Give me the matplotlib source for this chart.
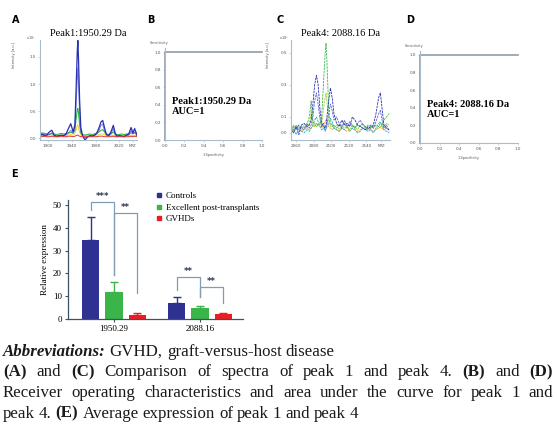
import matplotlib
matplotlib.use('Agg')
import matplotlib.pyplot as plt
from matplotlib.lines import Line2D

W, H = 557, 424

# ---- panel A spectra (m/z vs intensity x10^4) ----
mz_a = [1886, 1890, 1894, 1898, 1902, 1906, 1910, 1914, 1918, 1922, 1926, 1930,
        1934, 1938, 1942, 1945, 1947, 1949, 1950, 1951, 1953, 1955, 1958, 1962,
        1966, 1970, 1974, 1978, 1982, 1986, 1989, 1992, 1995, 1998, 2002, 2006,
        2010, 2013, 2016, 2020, 2024, 2028, 2032, 2036, 2040, 2043, 2046, 2050]
a_blue1 = [0.06, 0.08, 0.05, 0.07, 0.12, 0.15, 0.06, 0.04, 0.05, 0.06, 0.05, 0.08,
           0.18, 0.27, 0.12, 0.25, 0.90, 1.60, 1.80, 1.50, 0.70, 0.20, 0.05, -0.03,
           0.02, 0.05, 0.04, 0.06, 0.10, 0.20, 0.30, 0.33, 0.20, 0.08, 0.05, 0.12,
           0.24, 0.10, 0.04, 0.05, 0.04, 0.03, 0.06, 0.08, 0.20, 0.10, 0.18, 0.06]
a_blue2 = [0.04, 0.05, 0.07, 0.05, 0.08, 0.10, 0.05, 0.03, 0.04, 0.05, 0.06, 0.06,
           0.10, 0.15, 0.09, 0.20, 0.60, 1.10, 1.30, 1.05, 0.45, 0.12, 0.04, 0.01,
           0.03, 0.04, 0.05, 0.05, 0.08, 0.15, 0.24, 0.26, 0.14, 0.06, 0.04, 0.09,
           0.18, 0.08, 0.03, 0.04, 0.05, 0.04, 0.05, 0.06, 0.14, 0.08, 0.12, 0.05]
a_green = [0.08, 0.10, 0.09, 0.08, 0.07, 0.09, 0.08, 0.07, 0.08, 0.09, 0.08, 0.09,
           0.10, 0.11, 0.10, 0.15, 0.35, 0.52, 0.55, 0.48, 0.25, 0.10, 0.07, 0.06,
           0.07, 0.08, 0.07, 0.08, 0.09, 0.12, 0.15, 0.16, 0.12, 0.08, 0.07, 0.08,
           0.12, 0.08, 0.07, 0.07, 0.08, 0.07, 0.08, 0.08, 0.10, 0.09, 0.10, 0.08]
a_yellow = [0.05, 0.06, 0.05, 0.05, 0.06, 0.06, 0.05, 0.05, 0.05, 0.06, 0.05, 0.06,
            0.06, 0.07, 0.06, 0.09, 0.16, 0.23, 0.25, 0.20, 0.11, 0.06, 0.05, 0.05,
            0.05, 0.05, 0.05, 0.05, 0.06, 0.07, 0.08, 0.08, 0.07, 0.05, 0.05, 0.05,
            0.06, 0.05, 0.05, 0.05, 0.05, 0.05, 0.05, 0.05, 0.06, 0.05, 0.06, 0.05]
a_red = [0.03, 0.03, 0.04, 0.03, 0.03, 0.04, 0.03, 0.03, 0.03, 0.04, 0.03, 0.03,
         0.04, 0.04, 0.03, 0.04, 0.05, 0.06, 0.06, 0.05, 0.04, 0.03, 0.03, 0.03,
         0.03, 0.03, 0.03, 0.03, 0.03, 0.04, 0.04, 0.04, 0.03, 0.03, 0.03, 0.03,
         0.04, 0.03, 0.03, 0.03, 0.03, 0.03, 0.03, 0.03, 0.04, 0.03, 0.04, 0.03]

# ---- panel C spectra ----
mz_c = [2054, 2057, 2060, 2063, 2066, 2069, 2072, 2075, 2077, 2079, 2081, 2083,
        2085, 2087, 2089, 2091, 2093, 2094, 2095, 2097, 2099, 2101, 2103, 2106,
        2109, 2112, 2115, 2118, 2121, 2124, 2127, 2130, 2133, 2136, 2139, 2142,
        2145, 2148, 2151, 2154, 2156, 2158, 2160, 2163, 2166]
c_blue = [0.03, 0.00, 0.04, -0.01, 0.05, 0.06, 0.04, 0.05, 0.08, 0.18, 0.30, 0.36,
          0.30, 0.15, 0.06, 0.04, 0.03, 0.05, 0.10, 0.20, 0.28, 0.22, 0.12, 0.06,
          0.04, 0.08, 0.05, 0.06, 0.04, 0.10, 0.08, 0.05, 0.04, 0.03, 0.02, 0.04,
          0.03, 0.05, 0.12, 0.22, 0.25, 0.15, 0.05, 0.03, 0.02]
c_blue2 = [0.01, 0.04, 0.02, 0.05, 0.03, 0.02, 0.06, 0.03, 0.05, 0.10, 0.20, 0.25,
           0.18, 0.09, 0.04, 0.06, 0.02, 0.03, 0.06, 0.12, 0.18, 0.14, 0.08, 0.10,
           0.06, 0.03, 0.08, 0.04, 0.07, 0.05, 0.03, 0.06, 0.08, 0.05, 0.04, 0.02,
           0.05, 0.03, 0.07, 0.12, 0.14, 0.08, 0.03, 0.05, 0.01]
c_green = [0.04, 0.02, 0.05, 0.03, 0.04, 0.03, 0.05, 0.10, 0.20, 0.08, 0.05, 0.04,
           0.06, 0.05, 0.10, 0.30, 0.50, 0.56, 0.45, 0.15, 0.06, 0.04, 0.05, 0.03,
           0.05, 0.04, 0.06, 0.03, 0.05, 0.04, 0.03, 0.05, 0.04, 0.06, 0.03, 0.05,
           0.04, 0.03, 0.05, 0.04, 0.06, 0.05, 0.08, 0.10, 0.12]
c_lime = [0.02, 0.05, 0.03, 0.04, 0.02, 0.05, 0.03, 0.06, 0.12, 0.05, 0.04, 0.06,
          0.04, 0.07, 0.05, 0.15, 0.22, 0.25, 0.20, 0.08, 0.04, 0.06, 0.03, 0.05,
          0.02, 0.05, 0.03, 0.04, 0.02, 0.05, 0.04, 0.02, 0.05, 0.03, 0.04, 0.02,
          0.03, 0.05, 0.02, 0.04, 0.03, 0.05, 0.04, 0.06, 0.05]
c_orange = [0.02, 0.01, 0.03, 0.02, 0.01, 0.02, 0.03, 0.02, 0.03, 0.04, 0.05, 0.06,
            0.05, 0.04, 0.03, 0.05, 0.07, 0.08, 0.07, 0.04, 0.03, 0.02, 0.03, 0.02,
            0.01, 0.03, 0.02, 0.01, 0.02, 0.03, 0.02, 0.01, 0.02, 0.03, 0.02, 0.03,
            0.02, 0.01, 0.02, 0.03, 0.04, 0.03, 0.02, 0.03, 0.02]
c_cyan = [0.00, 0.02, -0.01, 0.03, 0.01, 0.00, 0.02, 0.01, 0.03, 0.05, 0.08, 0.10,
          0.07, 0.04, 0.02, 0.03, 0.01, 0.02, 0.04, 0.06, 0.09, 0.07, 0.03, 0.02,
          0.01, 0.03, 0.02, 0.04, 0.01, 0.03, 0.02, 0.00, 0.01, 0.03, 0.02, 0.01,
          0.02, 0.00, 0.03, 0.06, 0.07, 0.04, 0.02, 0.01, 0.00]

# ---- panel E bar chart ----
peaks = ['1950.29', '2088.16']
groups = ['Controls', 'Excellent post-transplants', 'GVHDs']
means = {'Controls': [34.6, 7.0],
         'Excellent post-transplants': [11.8, 4.8],
         'GVHDs': [1.8, 2.2]}
errs = {'Controls': [10.1, 2.6],
        'Excellent post-transplants': [4.4, 0.9],
        'GVHDs': [1.0, 0.4]}
# (peak index, bar i, bar j, top, leg i bottom, leg j bottom, label)
sig = [(0, 0, 1, 51.3, 47.8, 19.3, '***'),
       (0, 1, 2, 46.5, 19.3, 11.4, '**'),
       (1, 0, 1, 18.4, 12.7, 9.6, '**'),
       (1, 1, 2, 14.0, 9.6, 7.0, '**')]

col_bar = {'Controls': '#2e3192', 'Excellent post-transplants': '#39b54a', 'GVHDs': '#ed1c24'}
spine_c = '#a9bccb'
serif = ['Liberation Serif', 'DejaVu Serif']


def box(l, t, r, b):
    return [l / W, 1 - b / H, (r - l) / W, (b - t) / H]


def style_small(ax):
    for s in ['top', 'right']:
        ax.spines[s].set_visible(False)
    for s in ['left', 'bottom']:
        ax.spines[s].set_color(spine_c)
        ax.spines[s].set_linewidth(0.8)
    ax.tick_params(labelsize=3, length=1.5, width=0.4, color=spine_c, pad=1.5, labelcolor='#555555')


fig = plt.figure(figsize=(W / 100, H / 100), dpi=100)

for lab, x, y in [('A', 16, 20), ('B', 151, 20), ('C', 280, 20), ('D', 410, 20), ('E', 14, 174)]:
    fig.text(x / W, 1 - y / H, lab, fontsize=7, weight='bold', ha='center', va='center')

# A
ax = fig.add_axes(box(40, 40, 137, 140))
ax.plot(mz_a, a_yellow, color='#f2d52a', lw=0.7)
ax.plot(mz_a, a_green, color='#2db34a', lw=0.8)
ax.plot(mz_a, a_blue2, color='#5563d8', lw=0.7, alpha=0.8)
ax.plot(mz_a, a_blue1, color='#2a2fb0', lw=0.9)
ax.plot(mz_a, a_red, color='#e5322a', lw=0.7)
ax.set_xlim(1886, 2050)
ax.set_ylim(-0.03, 1.81)
ax.set_xticks([1900, 1940, 1980, 2020, 2043], ['1900', '1940', '1980', '2020', 'M/Z'])
ax.set_yticks([0, 0.5, 1.0, 1.5], ['0.0', '0.5', '1.0', '1.5'])
style_small(ax)
ax.set_title('Peak1:1950.29 Da', fontsize=7.5, family=serif, pad=3)
fig.text(36 / W, 1 - 40 / H, 'x10$^4$', fontsize=2.5, ha='right', color='#555555')
fig.text(14 / W, 1 - 55 / H, 'Intensity [a.u.]', fontsize=2.5, rotation=90, ha='center', va='center', color='#555555')

# C
ax = fig.add_axes(box(291, 40, 390, 140))
for ys, c in [(c_orange, '#f39a2b'), (c_cyan, '#22b5c8'), (c_lime, '#9fd13a'),
              (c_blue2, '#5a66d6'), (c_green, '#3dbb4c'), (c_blue, '#2a2fb0')]:
    ax.plot(mz_c, ys, color=c, lw=0.6, ls=(0, (3, 1)))
ax.set_xlim(2054, 2167)
ax.set_ylim(-0.044, 0.58)
ax.set_xticks([2060, 2080, 2100, 2120, 2140, 2157], ['2060', '2080', '2100', '2120', '2140', 'M/Z'])
ax.set_yticks([0, 0.1, 0.3, 0.5], ['0.0', '0.1', '0.3', '0.5'])
style_small(ax)
ax.set_title('Peak4: 2088.16 Da', fontsize=7.5, family=serif, pad=3)
fig.text(289 / W, 1 - 40 / H, 'x10$^4$', fontsize=2.5, ha='right', color='#555555')
fig.text(268 / W, 1 - 55 / H, 'Intensity [a.u.]', fontsize=2.5, rotation=90, ha='center', va='center', color='#555555')

# B and D (ROC)
roc_fpr = [0, 0, 1]
roc_tpr = [0, 1, 1]
for (l, t, r, b), name in [((165, 47.6, 262, 140), 'Peak1:1950.29 Da'),
                           ((420, 50.6, 518, 143), 'Peak4: 2088.16 Da')]:
    ax = fig.add_axes(box(l, t, r, b))
    ax.plot(roc_fpr, roc_tpr, color='#8d9ca9', lw=1.2, clip_on=False)
    ax.set_xlim(0, 1)
    ax.set_ylim(0, 1.05)
    ticks = [0, 0.2, 0.4, 0.6, 0.8, 1.0]
    ax.set_xticks(ticks, ['%.1f' % v for v in ticks])
    ax.set_yticks(ticks, ['%.1f' % v for v in ticks])
    style_small(ax)
    fig.text((l - 15) / W, 1 - (t - 4) / H, 'Sensitivity', fontsize=2.5, ha='left', color='#555555')
    fig.text((l + r) / 2 / W, 1 - (b + 16) / H, '1-Specificity', fontsize=2.5, ha='center', color='#555555')
    ax.text(0.07, 0.36, name + '\nAUC=1', transform=ax.transAxes, fontsize=7.5, weight='bold',
            family=serif, va='center', ha='left', linespacing=1.1)

# E
ax = fig.add_axes(box(68, 200, 243, 319))
bw = 0.2
offs = [-0.27, 0, 0.27]
for g, o in zip(groups, offs):
    xs = [i + o for i in range(len(peaks))]
    ax.bar(xs, means[g], width=bw, color=col_bar[g], label=g)
    ax.errorbar(xs, means[g], yerr=[[0] * len(peaks), errs[g]], fmt='none',
                ecolor=col_bar[g], elinewidth=1.0, capsize=3, capthick=1.0)
for pi, i, j, top, bi, bj, lab in sig:
    x1 = pi + offs[i]
    x2 = pi + offs[j]
    ax.plot([x1, x1, x2, x2], [bi, top, top, bj], color='#7f9db3', lw=0.9, clip_on=False)
    ax.text((x1 + x2) / 2, top + 0.5, lab, ha='center', va='bottom', fontsize=6,
            weight='bold', color='#2b3a4a')
ax.set_xlim(-0.535, 1.5)
ax.set_ylim(0, 52.2)
ax.set_yticks(range(0, 51, 10))
ax.set_xticks(range(len(peaks)), peaks)
for s in ['top', 'right']:
    ax.spines[s].set_visible(False)
for s in ['left', 'bottom']:
    ax.spines[s].set_color('#3f5262')
    ax.spines[s].set_linewidth(0.9)
ax.tick_params(labelsize=6.5, length=2.5, width=0.8, color='#3f5262', pad=2)
for t in ax.get_xticklabels() + ax.get_yticklabels():
    t.set_family(serif)
ax.set_ylabel('Relative expression', fontsize=6.5, family=serif, labelpad=3)
handles = [Line2D([], [], ls='none', marker='s', ms=3.5, color=col_bar[g]) for g in groups]
fig.legend(handles, groups, loc='upper left', bbox_to_anchor=(155 / W, 1 - 192 / H),
           frameon=False, prop={'family': serif, 'size': 6.5}, handlelength=0.8,
           handletextpad=0.4, labelspacing=0.35, borderaxespad=0, borderpad=0)

# caption, word by word so lines 2 and 3 can be justified
cap_lines = [
    ([('Abbreviations:', 'bold', 'italic'), ('GVHD,', 'normal', 'normal'), ('graft-versus-host', 'normal', 'normal'),
      ('disease', 'normal', 'normal')], 356, False),
    ([('(A)', 'bold', 'normal'), ('and', 'normal', 'normal'), ('(C)', 'bold', 'normal'),
      ('Comparison', 'normal', 'normal'), ('of', 'normal', 'normal'), ('spectra', 'normal', 'normal'),
      ('of', 'normal', 'normal'), ('peak', 'normal', 'normal'), ('1', 'normal', 'normal'),
      ('and', 'normal', 'normal'), ('peak', 'normal', 'normal'), ('4.', 'normal', 'normal'),
      ('(B)', 'bold', 'normal'), ('and', 'normal', 'normal'), ('(D)', 'bold', 'normal')], 376.5, True),
    ([(w, 'normal', 'normal') for w in
      'Receiver operating characteristics and area under the curve for peak 1 and'.split()], 397, True),
    ([('peak', 'normal', 'normal'), ('4.', 'normal', 'normal'), ('(E)', 'bold', 'normal'),
      ('Average', 'normal', 'normal'), ('expression', 'normal', 'normal'), ('of', 'normal', 'normal'),
      ('peak', 'normal', 'normal'), ('1', 'normal', 'normal'), ('and', 'normal', 'normal'),
      ('peak', 'normal', 'normal'), ('4', 'normal', 'normal')], 417.5, False),
]
renderer = fig.canvas.get_renderer()
x0, x1 = 3, 553
for words, yb, justify in cap_lines:
    texts = [fig.text(0, 1 - yb / H, s, fontsize=12.2, family=serif, weight=wt, style=st,
                      va='baseline', ha='left', color='#1a1a1a') for s, wt, st in words]
    widths = [t.get_window_extent(renderer).width for t in texts]
    gap = (x1 - x0 - sum(widths)) / (len(texts) - 1) if justify else 4.0
    x = x0
    for t, w in zip(texts, widths):
        t.set_x(x / W)
        x += w + gap

fig.savefig('out.png', dpi=100)
